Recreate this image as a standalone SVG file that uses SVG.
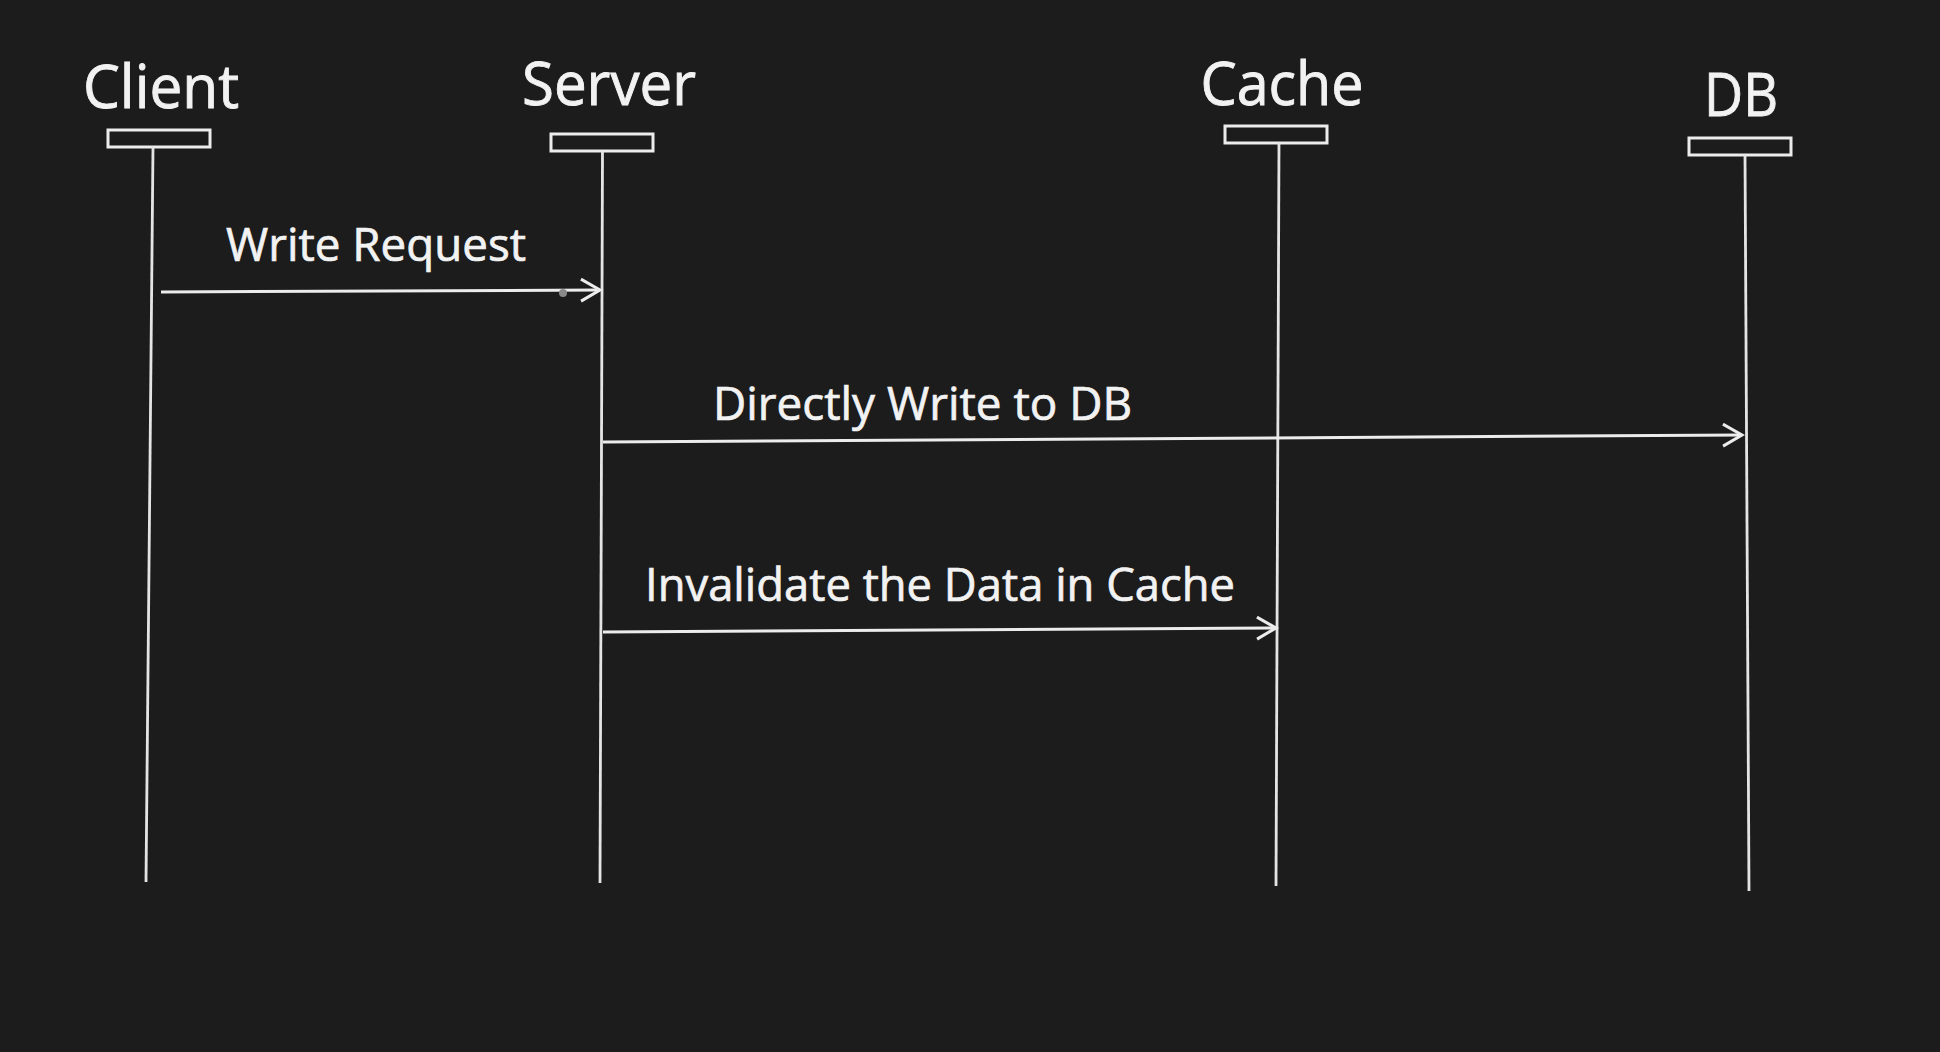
<svg xmlns="http://www.w3.org/2000/svg" width="1940" height="1052" viewBox="0 0 1940 1052">
<style>
.bg{fill:#1c1c1c}
.title{font-family:"Open Sans","Liberation Sans",sans-serif;font-size:60px;fill:#f2f2f2;stroke:#f2f2f2;stroke-width:0.9;text-anchor:middle}
.lbl{font-family:"Open Sans","Liberation Sans",sans-serif;font-size:46px;fill:#f2f2f2;stroke:#f2f2f2;stroke-width:0.7}
.box{fill:none;stroke:#ececec;stroke-width:3}
.life{stroke:#e4e4e4;stroke-width:2.8;fill:none}
.msg{stroke:#ececec;stroke-width:3;fill:none}
</style>
<defs>
<marker id="open" markerUnits="userSpaceOnUse" markerWidth="26" markerHeight="26" refX="20" refY="12" orient="auto" viewBox="0 0 26 26">
<path d="M1,1 L20,12 L1,23" fill="none" stroke="#ececec" stroke-width="3"/>
</marker>
</defs>
<rect class="bg" x="0" y="0" width="1940" height="1052"/>
<g id="client">
<text class="title" x="161" y="108" textLength="156" lengthAdjust="spacingAndGlyphs">Client</text>
<rect class="box" x="108" y="130" width="102" height="17"/>
<line class="life" x1="153" y1="147" x2="146" y2="882"/>
</g>
<g id="server">
<text class="title" x="609" y="105" textLength="174" lengthAdjust="spacingAndGlyphs">Server</text>
<rect class="box" x="551" y="134" width="102" height="17"/>
<line class="life" x1="602.5" y1="151" x2="600" y2="883"/>
</g>
<g id="cache">
<text class="title" x="1282" y="105" textLength="163" lengthAdjust="spacingAndGlyphs">Cache</text>
<rect class="box" x="1225" y="126" width="102" height="17"/>
<line class="life" x1="1279" y1="143" x2="1276" y2="886"/>
</g>
<g id="db">
<text class="title" x="1741" y="116" textLength="74" lengthAdjust="spacingAndGlyphs">DB</text>
<rect class="box" x="1689" y="138" width="102" height="17"/>
<line class="life" x1="1745" y1="155" x2="1749" y2="891"/>
</g>
<g id="connectors">
<line class="msg" x1="161" y1="292" x2="600" y2="290" marker-end="url(#open)"/>
<circle cx="563" cy="293" r="4" fill="#8a8a8a"/>
<text class="lbl" x="226" y="261" textLength="300" lengthAdjust="spacingAndGlyphs">Write Request</text>
<line class="msg" x1="603" y1="442" x2="1742" y2="435" marker-end="url(#open)"/>
<text class="lbl" x="713" y="420" textLength="419" lengthAdjust="spacingAndGlyphs">Directly Write to DB</text>
<line class="msg" x1="603" y1="632" x2="1276" y2="628" marker-end="url(#open)"/>
<text class="lbl" x="645" y="601" textLength="590" lengthAdjust="spacingAndGlyphs">Invalidate the Data in Cache</text>
</g>
</svg>
